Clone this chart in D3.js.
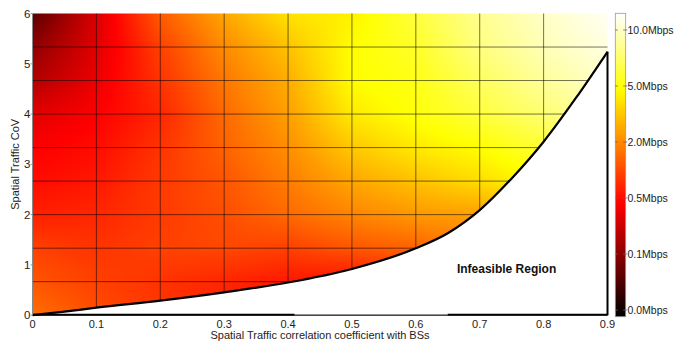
<!DOCTYPE html>
<html>
<head>
<meta charset="utf-8">
<script src="https://cdn.jsdelivr.net/npm/d3@7"></script>
<style>
  html, body { margin: 0; padding: 0; background: #fff; }
  svg { display: block; font-family: "Liberation Sans", Arial, sans-serif; }
</style>
</head>
<body>
<svg id="chart" width="674" height="341"></svg>
<script>
// Mesh coordinates of the throughput surface
const corrValues = [0, 0.1, 0.2, 0.3, 0.4, 0.5, 0.6, 0.7, 0.8, 0.9];
const covValues = [0, 0.667, 1.333, 2, 2.667, 3.333, 4, 4.667, 5.333, 6];

// Throughput (Mbps) at each mesh node; one row per CoV value, bottom to top
const throughputMbps = [
  [1.71, 1.30, 0.98, 0.74, 0.57, 0.48, 0.57, 0.90, 1.22, 1.55],
  [1.39, 1.14, 0.98, 0.82, 0.65, 0.57, 0.90, 1.22, 1.55, 1.79],
  [1.14, 0.98, 1.14, 1.22, 1.14, 1.39, 1.55, 1.87, 2.72, 3.37],
  [0.74, 0.82, 1.06, 1.30, 1.63, 1.96, 2.39, 2.55, 3.69, 4.67],
  [0.50, 0.65, 1.06, 1.39, 1.87, 2.72, 3.37, 4.02, 4.83, 6.08],
  [0.46, 0.50, 0.98, 1.55, 2.15, 3.53, 4.34, 4.83, 6.08, 8.25],
  [0.37, 0.46, 0.82, 1.63, 2.55, 4.34, 5.00, 6.35, 7.71, 9.32],
  [0.22, 0.41, 0.98, 1.79, 2.88, 4.83, 5.27, 7.17, 8.79, 10.14],
  [0.11, 0.37, 1.14, 2.07, 3.37, 4.83, 5.81, 8.12, 9.60, 10.68],
  [0.06, 0.35, 1.47, 2.72, 4.18, 4.50, 6.35, 8.52, 10.00, 11.22]
];

// Feasibility boundary: maximum CoV reachable for each correlation value
const boundaryCorr = [0, 0.05, 0.1, 0.2, 0.3, 0.4, 0.5, 0.6, 0.65, 0.7, 0.75, 0.8, 0.85, 0.9];
const boundaryCov = [0, 0.07, 0.15, 0.29, 0.455, 0.65, 0.92, 1.33, 1.63, 2.09, 2.72, 3.45, 4.31, 5.24];

// Axis ticks
const xTicks = [0, 0.1, 0.2, 0.3, 0.4, 0.5, 0.6, 0.7, 0.8, 0.9];
const yTicks = [0, 1, 2, 3, 4, 5, 6];
const colorTickValues = [0, 0.1, 0.5, 2, 5, 10];
const colorTickLabels = ["0.0Mbps", "0.1Mbps", "0.5Mbps", "2.0Mbps", "5.0Mbps", "10.0Mbps"];

const svg = d3.select("#chart");
const plot = { left: 32.5, right: 607.5, top: 13.5, bottom: 315.2 };

const x = d3.scaleLinear().domain([0, 0.9]).range([plot.left, plot.right]);
const y = d3.scaleLinear().domain([0, 6]).range([plot.bottom, plot.top]);

// Colour index (0..1 along the colour bar); bar ticks are evenly spaced
const tickStep = 0.1846, tickStart = 0.022;
const colorIndex = d3.scaleLinear()
  .domain(colorTickValues)
  .range(colorTickValues.map((_, i) => tickStart + i * tickStep));

// "hot" colour map: black -> red -> yellow -> white
function hot(f) {
  f = Math.max(0, Math.min(1, f));
  const r = Math.min(1, f / 0.375);
  const g = Math.max(0, Math.min(1, (f - 0.375) / 0.375));
  const b = Math.max(0, Math.min(1, (f - 0.75) / 0.25));
  return [Math.round(r * 255), Math.round(g * 255), Math.round(b * 255)];
}

// ---- Surface, interpolated shading between mesh nodes ----
const idxGrid = throughputMbps.map(row => row.map(v => colorIndex(v)));
const W = Math.round(plot.right - plot.left), H = Math.round(plot.bottom - plot.top);
const canvas = document.createElement("canvas");
canvas.width = W; canvas.height = H;
const ctx = canvas.getContext("2d");
const img = ctx.createImageData(W, H);
const colLookup = d3.scaleLinear().domain(corrValues).range(d3.range(corrValues.length));
const rowLookup = d3.scaleLinear().domain(covValues).range(d3.range(covValues.length));
for (let py = 0; py < H; py++) {
  const cov = y.invert(plot.top + py + 0.5);
  const gj = Math.max(0, Math.min(covValues.length - 1.0001, rowLookup(cov)));
  const j0 = Math.floor(gj), tj = gj - j0;
  for (let px = 0; px < W; px++) {
    const corr = x.invert(plot.left + px + 0.5);
    const gi = Math.max(0, Math.min(corrValues.length - 1.0001, colLookup(corr)));
    const i0 = Math.floor(gi), ti = gi - i0;
    const a = idxGrid[j0][i0], b = idxGrid[j0][i0 + 1];
    const c = idxGrid[j0 + 1][i0], d = idxGrid[j0 + 1][i0 + 1];
    const f = (a * (1 - ti) + b * ti) * (1 - tj) + (c * (1 - ti) + d * ti) * tj;
    const [r, g, bl] = hot(f);
    const k = (py * W + px) * 4;
    img.data[k] = r; img.data[k + 1] = g; img.data[k + 2] = bl; img.data[k + 3] = 255;
  }
}
ctx.putImageData(img, 0, 0);
svg.append("image")
  .attr("x", plot.left).attr("y", plot.top)
  .attr("width", W).attr("height", H)
  .attr("preserveAspectRatio", "none")
  .attr("href", canvas.toDataURL());

// Mesh edges
const mesh = svg.append("g").attr("stroke", "#000").attr("stroke-opacity", 0.55).attr("stroke-width", 1);
mesh.selectAll("line.v").data(corrValues.slice(1, -1)).join("line")
  .attr("class", "v")
  .attr("x1", d => x(d)).attr("x2", d => x(d))
  .attr("y1", y(6)).attr("y2", y(0));
mesh.selectAll("line.h").data(covValues.slice(1, -1)).join("line")
  .attr("class", "h")
  .attr("x1", x(0)).attr("x2", x(0.9))
  .attr("y1", d => y(d)).attr("y2", d => y(d));

// ---- Infeasible region ----
const boundaryPts = boundaryCorr.map((c, i) => [c, boundaryCov[i]]);
const curve = d3.line().x(d => x(d[0])).y(d => y(d[1])).curve(d3.curveMonotoneX);

// White fill below the smooth boundary
const outline = (() => {
  const pts = [];
  const tmp = svg.append("path").attr("d", curve(boundaryPts));
  const node = tmp.node(), len = node.getTotalLength();
  for (let s = 0; s <= len; s += 1) {
    const p = node.getPointAtLength(s);
    pts.push([p.x, p.y]);
  }
  tmp.remove();
  return pts.concat([
    [x(0.9), y(boundaryCov[boundaryCov.length - 1])],
    [x(0.9), y(0)],
    [x(0), y(0)]
  ]);
})();
svg.append("path")
  .attr("d", d3.line()(outline))
  .attr("fill", "#fff");

// Bottom axis line
svg.append("line")
  .attr("x1", x(0)).attr("x2", x(0.9))
  .attr("y1", y(0)).attr("y2", y(0))
  .attr("stroke", "#222").attr("stroke-width", 1.2);
[[0, 0.41], [0.65, 0.9]].forEach(seg => {
  svg.append("line")
    .attr("x1", x(seg[0])).attr("x2", x(seg[1]))
    .attr("y1", y(0) - 0.6).attr("y2", y(0) - 0.6)
    .attr("stroke", "#000").attr("stroke-width", 1.8);
});

// Boundary curve and right edge
svg.append("path")
  .attr("d", curve(boundaryPts))
  .attr("fill", "none").attr("stroke", "#000").attr("stroke-width", 2.2);
svg.append("line")
  .attr("x1", x(0.9)).attr("x2", x(0.9))
  .attr("y1", y(boundaryCov[boundaryCov.length - 1])).attr("y2", y(0))
  .attr("stroke", "#000").attr("stroke-width", 2);

svg.append("text")
  .attr("x", x(0.742)).attr("y", y(0.93)).attr("dy", "0.35em")
  .attr("text-anchor", "middle")
  .attr("font-size", 12).attr("font-weight", "bold").attr("fill", "#111")
  .text("Infeasible Region");

// ---- Axes ----
svg.append("line")
  .attr("x1", plot.left).attr("x2", plot.left)
  .attr("y1", plot.top).attr("y2", plot.bottom)
  .attr("stroke", "#888").attr("stroke-width", 1);

svg.append("g").selectAll("line").data(yTicks).join("line")
  .attr("x1", plot.left - 2).attr("x2", plot.left)
  .attr("y1", d => y(d)).attr("y2", d => y(d))
  .attr("stroke", "#999");

svg.append("g").selectAll("text").data(yTicks).join("text")
  .attr("x", 30.5).attr("y", d => y(d)).attr("dy", "0.36em")
  .attr("text-anchor", "end").attr("font-size", 11.5).attr("fill", "#222")
  .text(d => d);

svg.append("g").selectAll("text").data(xTicks).join("text")
  .attr("x", d => x(d)).attr("y", 327.8)
  .attr("text-anchor", "middle").attr("font-size", 11).attr("fill", "#222")
  .text(d => d);

svg.append("text")
  .attr("x", (plot.left + plot.right) / 2).attr("y", 338.6)
  .attr("text-anchor", "middle").attr("font-size", 11).attr("fill", "#222")
  .text("Spatial Traffic correlation coefficient with BSs");

svg.append("text")
  .attr("transform", `translate(18.5,${(plot.top + plot.bottom) / 2}) rotate(-90)`)
  .attr("text-anchor", "middle").attr("font-size", 11).attr("fill", "#222")
  .text("Spatial Traffic CoV");

// ---- Colour bar ----
const cb = { left: 615.3, right: 625.7, top: 13.3, bottom: 316.7 };
const cbY = d3.scaleLinear().domain([0, 1]).range([cb.bottom, cb.top]);
const grad = svg.append("defs").append("linearGradient")
  .attr("id", "hotGrad").attr("x1", 0).attr("y1", 1).attr("x2", 0).attr("y2", 0);
grad.selectAll("stop").data(d3.range(0, 1.0001, 0.02)).join("stop")
  .attr("offset", d => d)
  .attr("stop-color", d => { const c = hot(d); return `rgb(${c[0]},${c[1]},${c[2]})`; });
svg.append("rect")
  .attr("x", cb.left).attr("y", cb.top)
  .attr("width", cb.right - cb.left).attr("height", cb.bottom - cb.top)
  .attr("fill", "url(#hotGrad)")
  .attr("stroke", "#999").attr("stroke-width", 0.8);

const cbTicks = svg.append("g").attr("stroke", "#666").attr("stroke-width", 0.8);
colorTickValues.forEach(v => {
  const ty = cbY(colorIndex(v));
  cbTicks.append("line").attr("x1", cb.left).attr("x2", cb.left + 2.5).attr("y1", ty).attr("y2", ty);
  cbTicks.append("line").attr("x1", cb.right - 2.5).attr("x2", cb.right + 1.5).attr("y1", ty).attr("y2", ty);
});
svg.append("g").selectAll("text").data(colorTickValues).join("text")
  .attr("x", 627.5).attr("y", d => cbY(colorIndex(d))).attr("dy", "0.36em")
  .attr("font-size", 10.5).attr("fill", "#222")
  .text((d, i) => colorTickLabels[i]);
</script>
</body>
</html>
